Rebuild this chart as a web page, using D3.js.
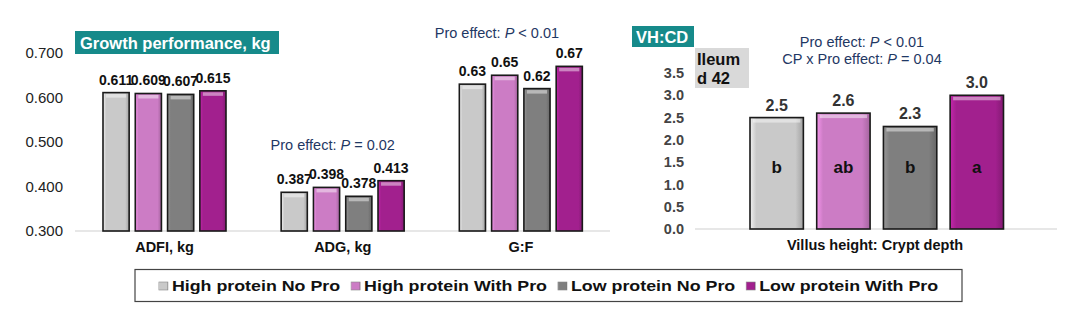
<!DOCTYPE html>
<html>
<head>
<meta charset="utf-8">
<script src="https://cdn.jsdelivr.net/npm/d3@7"></script>
<style>
  body { margin: 0; background: #fff; }
  svg { font-family: "Liberation Sans", Arial, sans-serif; }
</style>
</head>
<body>
<script>
// treatments and their colours
const groups = ['High protein No Pro', 'High protein With Pro', 'Low protein No Pro', 'Low protein With Pro'];
const colors = ['#c9c9c9', '#cc7cc5', '#7f7f7f', '#a2208e'];

// growth performance (kg)
const growthMeasures = ['ADFI, kg', 'ADG, kg', 'G:F'];
const growthValues = [
  [0.611, 0.609, 0.607, 0.615],
  [0.387, 0.398, 0.378, 0.413],
  [0.63, 0.65, 0.62, 0.67]
];
const growthLabels = [
  ['0.611', '0.609', '0.607', '0.615'],
  ['0.387', '0.398', '0.378', '0.413'],
  ['0.63', '0.65', '0.62', '0.67']
];
const growthTicks = [0.3, 0.4, 0.5, 0.6, 0.7];
const growthNotes = ['', 'Pro effect: |P| = 0.02', 'Pro effect: |P| < 0.01'];

// villus height : crypt depth, ileum d 42
const vhcdValues = [2.5, 2.6, 2.3, 3.0];
const vhcdLetters = ['b', 'ab', 'b', 'a'];
const vhcdTicks = [0, 0.5, 1, 1.5, 2, 2.5, 3, 3.5];
const vhcdNotes = ['Pro effect: |P| < 0.01', 'CP x Pro effect: |P| = 0.04'];

const W = 1080, H = 330;
const svg = d3.select('body').append('svg').attr('width', W).attr('height', H);
const defs = svg.append('defs');

// bevelled look for the bars
colors.forEach((c, i) => {
  const g = defs.append('linearGradient').attr('id', 'bev' + i).attr('x1', 0).attr('x2', 1).attr('y1', 0).attr('y2', 0);
  g.append('stop').attr('offset', '0%').attr('stop-color', d3.color(c).brighter(0.5));
  g.append('stop').attr('offset', '12%').attr('stop-color', c);
  g.append('stop').attr('offset', '85%').attr('stop-color', c);
  g.append('stop').attr('offset', '100%').attr('stop-color', d3.color(c).darker(0.6));
});

function note(sel, x, y, str, size) {
  const t = sel.append('text').attr('x', x).attr('y', y).attr('text-anchor', 'middle')
    .attr('fill', '#1f3864').style('font-size', size + 'px');
  str.split('|').forEach((part, i) => {
    t.append('tspan').text(part).style('font-style', i === 1 ? 'italic' : 'normal');
  });
}

function bars(sel, data, x, y, base) {
  const b = sel.selectAll('g.bar').data(data).enter().append('g').attr('class', 'bar');
  b.append('rect')
    .attr('x', d => x(d.i)).attr('y', d => y(d.v))
    .attr('width', x.bandwidth()).attr('height', d => base - y(d.v))
    .attr('fill', d => 'url(#bev' + d.i + ')')
    .attr('stroke', '#1a1a1a').attr('stroke-width', 1.6);
  // top highlight
  b.append('rect')
    .attr('x', d => x(d.i) + 3).attr('y', d => y(d.v) + 1.5)
    .attr('width', x.bandwidth() - 6).attr('height', 3.5)
    .attr('fill', '#fff').attr('opacity', 0.45);
  return b;
}

// ---------- left panel ----------
const yL = d3.scaleLinear().domain([0.3, 0.7]).range([231, 53]);
const x0 = d3.scaleBand().domain(d3.range(growthMeasures.length)).range([75.5, 610]);
const x1 = d3.scaleBand().domain(d3.range(groups.length)).range([27.5, 150.5]).paddingInner(0.19);

svg.append('line').attr('x1', 75).attr('x2', 610).attr('y1', yL(0.3)).attr('y2', yL(0.3))
  .attr('stroke', '#d0d0d0').attr('stroke-width', 1.2);

const axL = svg.append('g').attr('transform', 'translate(65,0)')
  .call(d3.axisLeft(yL).tickValues(growthTicks).tickFormat(d3.format('.3f')).tickSize(0));
axL.select('.domain').remove();
axL.selectAll('text').attr('x', -2).style('font-size', '15px').style('font-family', '"Liberation Sans", Arial, sans-serif').attr('fill', '#222');

growthMeasures.forEach((m, gi) => {
  const g = svg.append('g').attr('transform', 'translate(' + x0(gi) + ',0)');
  const data = growthValues[gi].map((v, i) => ({ v, i, lab: growthLabels[gi][i] }));
  bars(g, data, x1, yL, yL(0.3));
  g.selectAll('text.val').data(data).enter().append('text')
    .attr('x', d => x1(d.i) + x1.bandwidth() / 2).attr('y', d => yL(d.v) - 8)
    .attr('text-anchor', 'middle').style('font-size', '14px').style('font-weight', 'bold')
    .attr('fill', '#111').text(d => d.lab);
  g.append('text').attr('x', x0.bandwidth() / 2).attr('y', 252).attr('text-anchor', 'middle')
    .style('font-size', '14.5px').style('font-weight', 'bold').attr('fill', '#111').text(m);
});

note(svg, x0(1) + x0.bandwidth() / 2 - 10, 150, growthNotes[1], 14.5);
note(svg, x0(2) + x0.bandwidth() / 2 - 24, 38, growthNotes[2], 14.5);

svg.append('rect').attr('x', 75).attr('y', 31).attr('width', 204).attr('height', 23).attr('fill', '#168a8a');
svg.append('text').attr('x', 80).attr('y', 49).attr('fill', '#fff').style('font-size', '16.5px')
  .style('font-weight', 'bold').text('Growth performance, kg');

// ---------- right panel ----------
const yR = d3.scaleLinear().domain([0, 3.5]).range([229, 73]);
const xR = d3.scaleBand().domain(d3.range(groups.length)).range([750, 1003.5]).paddingInner(0.2);

svg.append('line').attr('x1', 695).attr('x2', 1057).attr('y1', yR(0)).attr('y2', yR(0))
  .attr('stroke', '#d0d0d0').attr('stroke-width', 1.2);

const axR = svg.append('g').attr('transform', 'translate(684,0)')
  .call(d3.axisLeft(yR).tickValues(vhcdTicks).tickFormat(d3.format('.1f')).tickSize(0));
axR.select('.domain').remove();
axR.selectAll('text').attr('x', 0).style('font-size', '14.5px').style('font-weight', 'bold')
  .style('font-family', '"Liberation Sans", Arial, sans-serif').attr('fill', '#444');

const rData = vhcdValues.map((v, i) => ({ v, i }));
const rg = svg.append('g');
bars(rg, rData, xR, yR, yR(0));
rg.selectAll('text.val').data(rData).enter().append('text')
  .attr('x', d => xR(d.i) + xR.bandwidth() / 2).attr('y', d => yR(d.v) - 7)
  .attr('text-anchor', 'middle').style('font-size', '16px').style('font-weight', 'bold')
  .attr('fill', '#333').text(d => d3.format('.1f')(d.v));
rg.selectAll('text.let').data(rData).enter().append('text')
  .attr('x', d => xR(d.i) + xR.bandwidth() / 2).attr('y', yR(1.4) + 6)
  .attr('text-anchor', 'middle').style('font-size', '17px').style('font-weight', 'bold')
  .attr('fill', '#111').text(d => vhcdLetters[d.i]);

svg.append('text').attr('x', 875).attr('y', 250).attr('text-anchor', 'middle')
  .style('font-size', '14.5px').style('font-weight', 'bold').attr('fill', '#111')
  .text('Villus height: Crypt depth');

note(svg, 862, 47, vhcdNotes[0], 14.5);
note(svg, 862, 64, vhcdNotes[1], 14.5);

svg.append('rect').attr('x', 632).attr('y', 26).attr('width', 62).attr('height', 21).attr('fill', '#168a8a');
svg.append('text').attr('x', 636).attr('y', 43).attr('fill', '#fff').style('font-size', '16.5px')
  .style('font-weight', 'bold').text('VH:CD');

svg.append('rect').attr('x', 695).attr('y', 48).attr('width', 54).attr('height', 40).attr('fill', '#d9d9d9');
svg.append('text').attr('x', 697).attr('y', 65).attr('fill', '#111').style('font-size', '16.5px')
  .style('font-weight', 'bold').text('Ileum');
svg.append('text').attr('x', 697).attr('y', 84).attr('fill', '#111').style('font-size', '16.5px')
  .style('font-weight', 'bold').text('d 42');

// ---------- legend ----------
const lg = svg.append('g');
lg.append('rect').attr('x', 135).attr('y', 269.5).attr('width', 827).attr('height', 32)
  .attr('fill', '#fff').attr('stroke', '#444').attr('stroke-width', 1.2);
const items = lg.selectAll('g.item').data(groups).enter().append('g').attr('class', 'item');
items.append('rect').attr('width', 9).attr('height', 8).attr('y', -9)
  .attr('fill', (d, i) => 'url(#bev' + i + ')').attr('stroke', '#888').attr('stroke-width', 0.6);
// legend lettering is set wide
const stretch = 1.15;
items.append('text').attr('transform', 'translate(13,0) scale(' + stretch + ',1)')
  .style('font-size', '15.5px').style('font-weight', 'bold')
  .attr('fill', '#111').text(d => d);
let cx = 0;
const pos = [];
items.each(function () {
  pos.push(cx);
  cx += 13 + d3.select(this).select('text').node().getComputedTextLength() * stretch + 11;
});
const startX = 135 + (827 - (cx - 11)) / 2;
items.attr('transform', (d, i) => 'translate(' + (startX + pos[i]) + ',291)');
</script>
</body>
</html>
